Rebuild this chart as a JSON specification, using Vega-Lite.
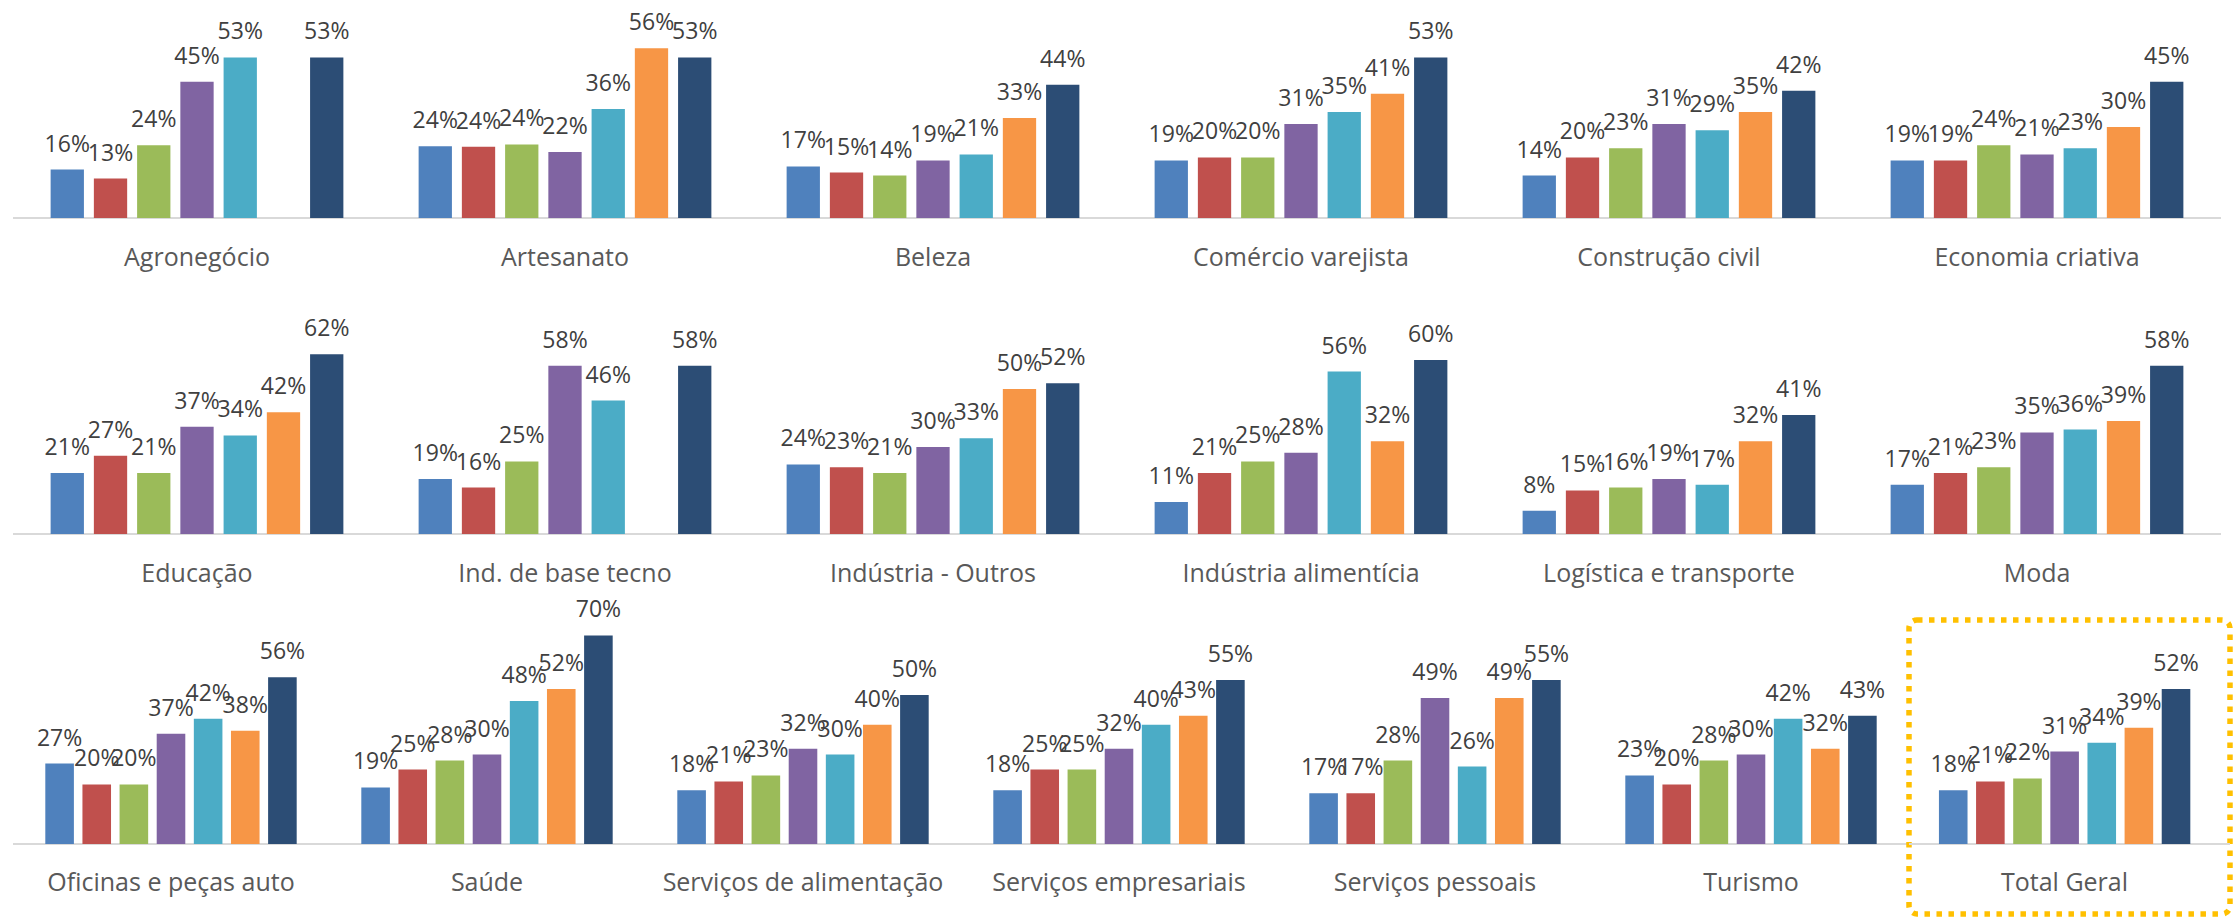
{
  "$schema": "https://vega.github.io/schema/vega-lite/v6.json",
  "background": "white",
  "padding": {"left": 12, "top": 0, "right": 0, "bottom": 0},
  "bounds": "flush",
  "resolve": {"scale": {"x": "independent", "xOffset": "independent", "y": "independent"}},
  "config": {
    "view": {"stroke": null},
    "concat": {"spacing": 0},
    "text": {"font": "Open Sans"}
  },
  "datasets": {
    "r1": [
      {"sector": "Agronegócio", "s": 1, "v": 0.16}, {"sector": "Agronegócio", "s": 2, "v": 0.13}, {"sector": "Agronegócio", "s": 3, "v": 0.24}, {"sector": "Agronegócio", "s": 4, "v": 0.45}, {"sector": "Agronegócio", "s": 5, "v": 0.53}, {"sector": "Agronegócio", "s": 7, "v": 0.53},
      {"sector": "Artesanato", "s": 1, "v": 0.237}, {"sector": "Artesanato", "s": 2, "v": 0.235}, {"sector": "Artesanato", "s": 3, "v": 0.243}, {"sector": "Artesanato", "s": 4, "v": 0.218}, {"sector": "Artesanato", "s": 5, "v": 0.36}, {"sector": "Artesanato", "s": 6, "v": 0.56}, {"sector": "Artesanato", "s": 7, "v": 0.53},
      {"sector": "Beleza", "s": 1, "v": 0.17}, {"sector": "Beleza", "s": 2, "v": 0.15}, {"sector": "Beleza", "s": 3, "v": 0.14}, {"sector": "Beleza", "s": 4, "v": 0.19}, {"sector": "Beleza", "s": 5, "v": 0.21}, {"sector": "Beleza", "s": 6, "v": 0.33}, {"sector": "Beleza", "s": 7, "v": 0.44},
      {"sector": "Comércio varejista", "s": 1, "v": 0.19}, {"sector": "Comércio varejista", "s": 2, "v": 0.20}, {"sector": "Comércio varejista", "s": 3, "v": 0.20}, {"sector": "Comércio varejista", "s": 4, "v": 0.31}, {"sector": "Comércio varejista", "s": 5, "v": 0.35}, {"sector": "Comércio varejista", "s": 6, "v": 0.41}, {"sector": "Comércio varejista", "s": 7, "v": 0.53},
      {"sector": "Construção civil", "s": 1, "v": 0.14}, {"sector": "Construção civil", "s": 2, "v": 0.20}, {"sector": "Construção civil", "s": 3, "v": 0.23}, {"sector": "Construção civil", "s": 4, "v": 0.31}, {"sector": "Construção civil", "s": 5, "v": 0.29}, {"sector": "Construção civil", "s": 6, "v": 0.35}, {"sector": "Construção civil", "s": 7, "v": 0.42},
      {"sector": "Economia criativa", "s": 1, "v": 0.19}, {"sector": "Economia criativa", "s": 2, "v": 0.19}, {"sector": "Economia criativa", "s": 3, "v": 0.24}, {"sector": "Economia criativa", "s": 4, "v": 0.21}, {"sector": "Economia criativa", "s": 5, "v": 0.23}, {"sector": "Economia criativa", "s": 6, "v": 0.30}, {"sector": "Economia criativa", "s": 7, "v": 0.45}
    ],
    "r2": [
      {"sector": "Educação", "s": 1, "v": 0.21}, {"sector": "Educação", "s": 2, "v": 0.27}, {"sector": "Educação", "s": 3, "v": 0.21}, {"sector": "Educação", "s": 4, "v": 0.37}, {"sector": "Educação", "s": 5, "v": 0.34}, {"sector": "Educação", "s": 6, "v": 0.42}, {"sector": "Educação", "s": 7, "v": 0.62},
      {"sector": "Ind. de base tecno", "s": 1, "v": 0.19}, {"sector": "Ind. de base tecno", "s": 2, "v": 0.16}, {"sector": "Ind. de base tecno", "s": 3, "v": 0.25}, {"sector": "Ind. de base tecno", "s": 4, "v": 0.58}, {"sector": "Ind. de base tecno", "s": 5, "v": 0.46}, {"sector": "Ind. de base tecno", "s": 7, "v": 0.58},
      {"sector": "Indústria - Outros", "s": 1, "v": 0.24}, {"sector": "Indústria - Outros", "s": 2, "v": 0.23}, {"sector": "Indústria - Outros", "s": 3, "v": 0.21}, {"sector": "Indústria - Outros", "s": 4, "v": 0.30}, {"sector": "Indústria - Outros", "s": 5, "v": 0.33}, {"sector": "Indústria - Outros", "s": 6, "v": 0.50}, {"sector": "Indústria - Outros", "s": 7, "v": 0.52},
      {"sector": "Indústria alimentícia", "s": 1, "v": 0.11}, {"sector": "Indústria alimentícia", "s": 2, "v": 0.21}, {"sector": "Indústria alimentícia", "s": 3, "v": 0.25}, {"sector": "Indústria alimentícia", "s": 4, "v": 0.28}, {"sector": "Indústria alimentícia", "s": 5, "v": 0.56}, {"sector": "Indústria alimentícia", "s": 6, "v": 0.32}, {"sector": "Indústria alimentícia", "s": 7, "v": 0.60},
      {"sector": "Logística e transporte", "s": 1, "v": 0.08}, {"sector": "Logística e transporte", "s": 2, "v": 0.15}, {"sector": "Logística e transporte", "s": 3, "v": 0.16}, {"sector": "Logística e transporte", "s": 4, "v": 0.19}, {"sector": "Logística e transporte", "s": 5, "v": 0.17}, {"sector": "Logística e transporte", "s": 6, "v": 0.32}, {"sector": "Logística e transporte", "s": 7, "v": 0.41},
      {"sector": "Moda", "s": 1, "v": 0.17}, {"sector": "Moda", "s": 2, "v": 0.21}, {"sector": "Moda", "s": 3, "v": 0.23}, {"sector": "Moda", "s": 4, "v": 0.35}, {"sector": "Moda", "s": 5, "v": 0.36}, {"sector": "Moda", "s": 6, "v": 0.39}, {"sector": "Moda", "s": 7, "v": 0.58}
    ],
    "r3": [
      {"sector": "Oficinas e peças auto", "s": 1, "v": 0.27}, {"sector": "Oficinas e peças auto", "s": 2, "v": 0.20}, {"sector": "Oficinas e peças auto", "s": 3, "v": 0.20}, {"sector": "Oficinas e peças auto", "s": 4, "v": 0.37}, {"sector": "Oficinas e peças auto", "s": 5, "v": 0.42}, {"sector": "Oficinas e peças auto", "s": 6, "v": 0.38}, {"sector": "Oficinas e peças auto", "s": 7, "v": 0.56},
      {"sector": "Saúde", "s": 1, "v": 0.19}, {"sector": "Saúde", "s": 2, "v": 0.25}, {"sector": "Saúde", "s": 3, "v": 0.28}, {"sector": "Saúde", "s": 4, "v": 0.30}, {"sector": "Saúde", "s": 5, "v": 0.48}, {"sector": "Saúde", "s": 6, "v": 0.52}, {"sector": "Saúde", "s": 7, "v": 0.70},
      {"sector": "Serviços de alimentação", "s": 1, "v": 0.18}, {"sector": "Serviços de alimentação", "s": 2, "v": 0.21}, {"sector": "Serviços de alimentação", "s": 3, "v": 0.23}, {"sector": "Serviços de alimentação", "s": 4, "v": 0.32}, {"sector": "Serviços de alimentação", "s": 5, "v": 0.30}, {"sector": "Serviços de alimentação", "s": 6, "v": 0.40}, {"sector": "Serviços de alimentação", "s": 7, "v": 0.50},
      {"sector": "Serviços empresariais", "s": 1, "v": 0.18}, {"sector": "Serviços empresariais", "s": 2, "v": 0.25}, {"sector": "Serviços empresariais", "s": 3, "v": 0.25}, {"sector": "Serviços empresariais", "s": 4, "v": 0.32}, {"sector": "Serviços empresariais", "s": 5, "v": 0.40}, {"sector": "Serviços empresariais", "s": 6, "v": 0.43}, {"sector": "Serviços empresariais", "s": 7, "v": 0.55},
      {"sector": "Serviços pessoais", "s": 1, "v": 0.17}, {"sector": "Serviços pessoais", "s": 2, "v": 0.17}, {"sector": "Serviços pessoais", "s": 3, "v": 0.28}, {"sector": "Serviços pessoais", "s": 4, "v": 0.49}, {"sector": "Serviços pessoais", "s": 5, "v": 0.26}, {"sector": "Serviços pessoais", "s": 6, "v": 0.49}, {"sector": "Serviços pessoais", "s": 7, "v": 0.55},
      {"sector": "Turismo", "s": 1, "v": 0.23}, {"sector": "Turismo", "s": 2, "v": 0.20}, {"sector": "Turismo", "s": 3, "v": 0.28}, {"sector": "Turismo", "s": 4, "v": 0.30}, {"sector": "Turismo", "s": 5, "v": 0.42}, {"sector": "Turismo", "s": 6, "v": 0.32}, {"sector": "Turismo", "s": 7, "v": 0.43}
    ],
    "tg": [
      {"sector": "Total Geral", "s": 1, "v": 0.18}, {"sector": "Total Geral", "s": 2, "v": 0.21}, {"sector": "Total Geral", "s": 3, "v": 0.22}, {"sector": "Total Geral", "s": 4, "v": 0.31}, {"sector": "Total Geral", "s": 5, "v": 0.34}, {"sector": "Total Geral", "s": 6, "v": 0.39}, {"sector": "Total Geral", "s": 7, "v": 0.52}
    ],
    "one": [{"k": 0}]
  },
  "vconcat": [
    {
      "width": 2208, "height": 300,
      "layer": [
        {"data": {"name": "one"}, "mark": {"type": "rule", "color": "#D9D9D9", "strokeWidth": 2}, "encoding": {"y": {"datum": 0, "type": "quantitative", "scale": {"domain": [-0.2706, 0.7195], "nice": false}, "axis": null}}},
        {"data": {"name": "r1"}, "mark": {"type": "bar"},
         "encoding": {
           "x": {"field": "sector", "type": "nominal", "sort": ["Agronegócio", "Artesanato", "Beleza", "Comércio varejista", "Construção civil", "Economia criativa"], "scale": {"paddingInner": 0, "paddingOuter": 0}, "axis": null},
           "xOffset": {"field": "s", "type": "ordinal", "scale": {"domain": [1,2,3,4,5,6,7], "paddingInner": 0.23, "paddingOuter": 0.87}},
           "y": {"field": "v", "type": "quantitative"},
           "color": {"field": "s", "type": "ordinal", "scale": {"domain": [1,2,3,4,5,6,7], "range": ["#4F81BD", "#C0504D", "#9BBB59", "#8064A2", "#4BACC6", "#F79646", "#2C4D75"]}, "legend": null}
         }},
        {"data": {"name": "r1"}, "mark": {"type": "text", "fontSize": 23, "color": "#404040", "baseline": "alphabetic", "dy": -18},
         "encoding": {
           "x": {"field": "sector", "type": "nominal", "sort": ["Agronegócio", "Artesanato", "Beleza", "Comércio varejista", "Construção civil", "Economia criativa"]},
           "xOffset": {"field": "s", "type": "ordinal"},
           "y": {"field": "v", "type": "quantitative"},
           "text": {"field": "v", "type": "quantitative", "format": ".0%"}
         }},
        {"data": {"name": "r1"}, "transform": [{"filter": "datum.s == 4"}],
         "mark": {"type": "text", "fontSize": 25, "color": "#595959", "baseline": "alphabetic"},
         "encoding": {
           "x": {"field": "sector", "type": "nominal", "sort": ["Agronegócio", "Artesanato", "Beleza", "Comércio varejista", "Construção civil", "Economia criativa"]},
           "y": {"datum": -0.1584, "type": "quantitative"},
           "text": {"field": "sector", "type": "nominal"}
         }}
      ]
    },
    {
      "width": 2208, "height": 320,
      "layer": [
        {"data": {"name": "one"}, "mark": {"type": "rule", "color": "#D9D9D9", "strokeWidth": 2}, "encoding": {"y": {"datum": 0, "type": "quantitative", "scale": {"domain": [-0.2966, 0.8069], "nice": false}, "axis": null}}},
        {"data": {"name": "r2"}, "mark": {"type": "bar"},
         "encoding": {
           "x": {"field": "sector", "type": "nominal", "sort": ["Educação", "Ind. de base tecno", "Indústria - Outros", "Indústria alimentícia", "Logística e transporte", "Moda"], "scale": {"paddingInner": 0, "paddingOuter": 0}, "axis": null},
           "xOffset": {"field": "s", "type": "ordinal", "scale": {"domain": [1,2,3,4,5,6,7], "paddingInner": 0.23, "paddingOuter": 0.87}},
           "y": {"field": "v", "type": "quantitative"},
           "color": {"field": "s", "type": "ordinal", "scale": {"domain": [1,2,3,4,5,6,7], "range": ["#4F81BD", "#C0504D", "#9BBB59", "#8064A2", "#4BACC6", "#F79646", "#2C4D75"]}, "legend": null}
         }},
        {"data": {"name": "r2"}, "mark": {"type": "text", "fontSize": 23, "color": "#404040", "baseline": "alphabetic", "dy": -18},
         "encoding": {
           "x": {"field": "sector", "type": "nominal", "sort": ["Educação", "Ind. de base tecno", "Indústria - Outros", "Indústria alimentícia", "Logística e transporte", "Moda"]},
           "xOffset": {"field": "s", "type": "ordinal"},
           "y": {"field": "v", "type": "quantitative"},
           "text": {"field": "v", "type": "quantitative", "format": ".0%"}
         }},
        {"data": {"name": "r2"}, "transform": [{"filter": "datum.s == 4"}],
         "mark": {"type": "text", "fontSize": 25, "color": "#595959", "baseline": "alphabetic"},
         "encoding": {
           "x": {"field": "sector", "type": "nominal", "sort": ["Educação", "Ind. de base tecno", "Indústria - Outros", "Indústria alimentícia", "Logística e transporte", "Moda"]},
           "y": {"datum": -0.1655, "type": "quantitative"},
           "text": {"field": "sector", "type": "nominal"}
         }}
      ]
    },
    {
      "bounds": "flush",
      "resolve": {"scale": {"x": "independent", "xOffset": "independent", "y": "independent"}},
      "hconcat": [
        {
          "width": 1896, "height": 294,
          "layer": [
            {"data": {"name": "one"}, "mark": {"type": "rule", "color": "#D9D9D9", "strokeWidth": 2}, "encoding": {"y": {"datum": 0, "type": "quantitative", "scale": {"domain": [-0.2349, 0.7517], "nice": false}, "axis": null}}},
            {"data": {"name": "r3"}, "mark": {"type": "bar"},
             "encoding": {
               "x": {"field": "sector", "type": "nominal", "sort": ["Oficinas e peças auto", "Saúde", "Serviços de alimentação", "Serviços empresariais", "Serviços pessoais", "Turismo"], "scale": {"paddingInner": 0, "paddingOuter": 0}, "axis": null},
               "xOffset": {"field": "s", "type": "ordinal", "scale": {"domain": [1,2,3,4,5,6,7], "paddingInner": 0.23, "paddingOuter": 0.87}},
               "y": {"field": "v", "type": "quantitative"},
               "color": {"field": "s", "type": "ordinal", "scale": {"domain": [1,2,3,4,5,6,7], "range": ["#4F81BD", "#C0504D", "#9BBB59", "#8064A2", "#4BACC6", "#F79646", "#2C4D75"]}, "legend": null}
             }},
            {"data": {"name": "r3"}, "mark": {"type": "text", "fontSize": 23, "color": "#404040", "baseline": "alphabetic", "dy": -18},
             "encoding": {
               "x": {"field": "sector", "type": "nominal", "sort": ["Oficinas e peças auto", "Saúde", "Serviços de alimentação", "Serviços empresariais", "Serviços pessoais", "Turismo"]},
               "xOffset": {"field": "s", "type": "ordinal"},
               "y": {"field": "v", "type": "quantitative"},
               "text": {"field": "v", "type": "quantitative", "format": ".0%"}
             }},
            {"data": {"name": "r3"}, "transform": [{"filter": "datum.s == 4"}],
             "mark": {"type": "text", "fontSize": 25, "color": "#595959", "baseline": "alphabetic"},
             "encoding": {
               "x": {"field": "sector", "type": "nominal", "sort": ["Oficinas e peças auto", "Saúde", "Serviços de alimentação", "Serviços empresariais", "Serviços pessoais", "Turismo"]},
               "y": {"datum": -0.1577, "type": "quantitative"},
               "text": {"field": "sector", "type": "nominal"}
             }}
          ]
        },
        {
          "width": 321, "height": 294,
          "view": {"stroke": "#FFC000", "strokeWidth": 5.5, "strokeDash": [5.5, 6.5], "cornerRadius": 8},
          "layer": [
            {"data": {"name": "one"}, "mark": {"type": "rule", "color": "#D9D9D9", "strokeWidth": 2}, "encoding": {"y": {"datum": 0, "type": "quantitative", "scale": {"domain": [-0.2349, 0.7517], "nice": false}, "axis": null}}},
            {"data": {"name": "tg"}, "mark": {"type": "bar"},
             "encoding": {
               "x": {"field": "sector", "type": "nominal", "scale": {"paddingInner": 0, "paddingOuter": 0}, "axis": null},
               "xOffset": {"field": "s", "type": "ordinal", "scale": {"domain": [1,2,3,4,5,6,7], "paddingInner": 0.23, "paddingOuter": 0.9375, "align": 0.43}},
               "y": {"field": "v", "type": "quantitative"},
               "color": {"field": "s", "type": "ordinal", "scale": {"domain": [1,2,3,4,5,6,7], "range": ["#4F81BD", "#C0504D", "#9BBB59", "#8064A2", "#4BACC6", "#F79646", "#2C4D75"]}, "legend": null}
             }},
            {"data": {"name": "tg"}, "mark": {"type": "text", "fontSize": 23, "color": "#404040", "baseline": "alphabetic", "dy": -18},
             "encoding": {
               "x": {"field": "sector", "type": "nominal"},
               "xOffset": {"field": "s", "type": "ordinal"},
               "y": {"field": "v", "type": "quantitative"},
               "text": {"field": "v", "type": "quantitative", "format": ".0%"}
             }},
            {"data": {"name": "tg"}, "transform": [{"filter": "datum.s == 4"}],
             "mark": {"type": "text", "fontSize": 25, "color": "#595959", "baseline": "alphabetic", "dx": -5},
             "encoding": {
               "x": {"field": "sector", "type": "nominal"},
               "y": {"datum": -0.1577, "type": "quantitative"},
               "text": {"field": "sector", "type": "nominal"}
             }}
          ]
        }
      ]
    }
  ]
}
